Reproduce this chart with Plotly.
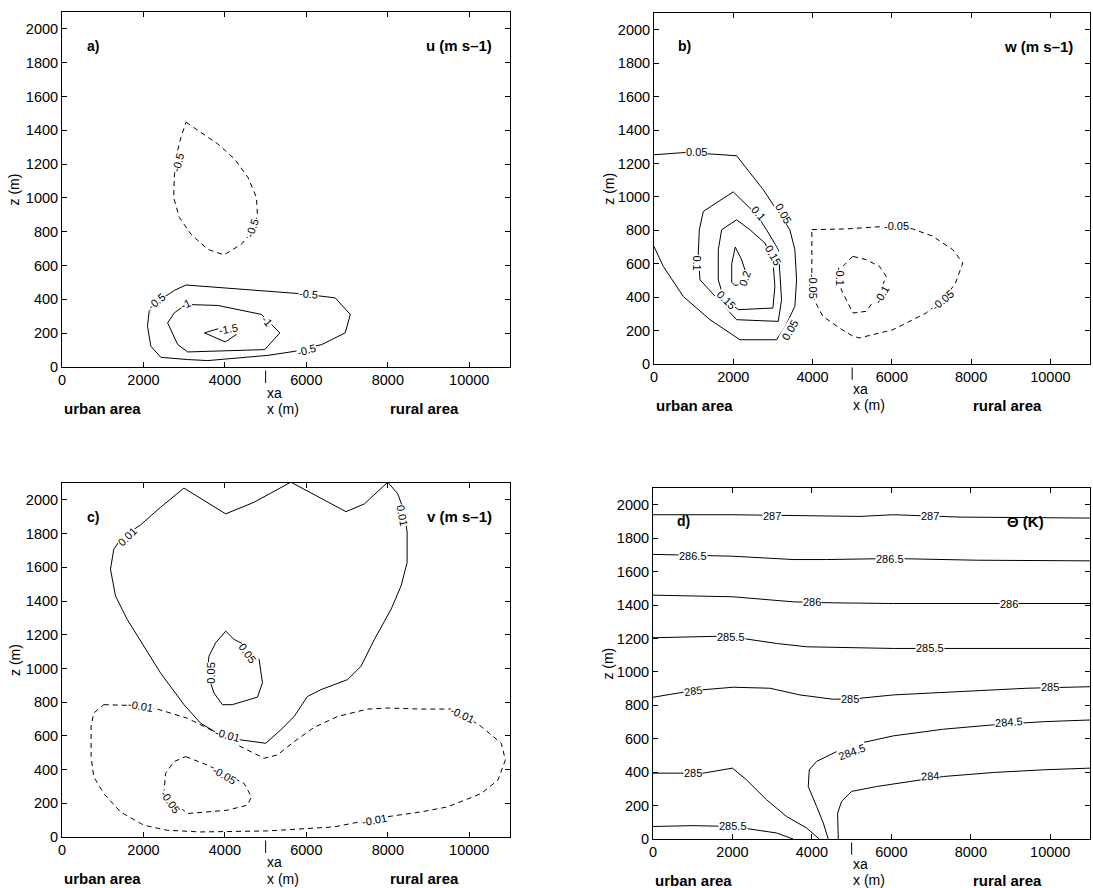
import plotly.graph_objects as go

# ---------------- data ----------------
X_TICKS = [0, 2000, 4000, 6000, 8000, 10000]
X_TICK_LABELS = ["0", "2000", "4000", "6000", "8000", "10000"]
Z_TICKS = [0, 200, 400, 600, 800, 1000, 1200, 1400, 1600, 1800, 2000]
X_RANGE = [0, 11000]
Z_RANGE = [0, 2100]
XA = 5000

# panel a) u (m s-1)
a_m05_up_x = [3045, 3416, 3827, 4239, 4568, 4774, 4798, 4691, 4403, 3975, 3580, 3169, 2881, 2741, 2757, 2798, 2922, 3045]
a_m05_up_z = [1448, 1388, 1319, 1230, 1121, 1003, 904, 805, 726, 663, 696, 785, 884, 1003, 1121, 1240, 1359, 1448]
a_m05_lo_x = [3045, 4239, 5885, 6708, 7078, 6955, 6379, 5720, 5062, 3580, 3086, 2428, 2181, 2099, 2140, 2428, 2757, 3045]
a_m05_lo_z = [485, 465, 433, 409, 311, 202, 133, 93, 69, 38, 44, 57, 123, 241, 330, 400, 453, 485]
a_m1_x = [3045, 3827, 4897, 5350, 4980, 4074, 3086, 2840, 2593, 2757, 3045]
a_m1_z = [370, 364, 311, 202, 103, 97, 89, 133, 261, 320, 370]
a_m15_x = [3498, 3951, 4280, 4008, 3498]
a_m15_z = [202, 235, 192, 148, 202]
a_lab_text = ["-0.5", "-0.5", "-0.5", "-0.5", "-1", "-1", "-1.5", "-0.5"]
a_lab_x = [2862, 4660, 6050, 2330, 3050, 5030, 4080, 6010]
a_lab_z = [1210, 825, 429, 390, 370, 271, 222, 103]
a_lab_ang = [-75, -70, 5, -40, -25, 50, -10, -15]

# panel b) w (m s-1)
b_p005_x = [0, 824, 2085, 2420, 2756, 3100, 3428, 3554, 3597, 3554, 3300, 3092, 2168, 1412, 739, 235, 0]
b_p005_z = [1252, 1266, 1246, 1142, 1043, 920, 803, 684, 504, 345, 220, 145, 145, 265, 404, 584, 703]
b_p01_x = [2000, 1244, 1143, 1118, 1160, 1538, 2085, 3134, 3218, 3176, 3134, 2840, 2588, 2000]
b_p01_z = [1030, 913, 803, 664, 504, 404, 265, 255, 385, 544, 684, 803, 893, 1030]
b_p015_x = [2085, 1706, 1622, 1622, 1750, 2126, 3000, 3050, 3000, 2798, 2420, 2085]
b_p015_z = [863, 803, 684, 504, 400, 325, 335, 464, 620, 724, 803, 863]
b_p02_x = [2050, 1960, 1960, 2040, 2250, 2300, 2200, 2050]
b_p02_z = [700, 600, 490, 470, 480, 560, 630, 700]
b_m005_x = [3983, 4849, 6109, 6529, 7034, 7538, 7790, 7600, 7286, 6866, 6025, 5185, 5017, 4681, 4260, 4050, 3983, 3983]
b_m005_z = [804, 808, 828, 808, 764, 684, 604, 480, 385, 305, 205, 156, 166, 215, 285, 380, 524, 804]
b_m01_x = [5017, 4765, 4723, 5017, 5353, 5689, 5857, 5689, 5353, 5017]
b_m01_z = [644, 584, 445, 305, 315, 425, 524, 584, 624, 644]
b_lab_text = ["0.05", "0.05", "0.1", "0.1", "0.15", "0.15", "0.2", "0.05", "-0.05", "-0.05", "-0.1", "-0.1", "-0.05"]
b_lab_x = [1076, 3260, 2630, 1076, 3008, 1832, 2294, 3428, 6109, 4000, 4681, 5731, 7286]
b_lab_z = [1266, 903, 903, 604, 654, 385, 514, 205, 828, 465, 524, 415, 385]
b_lab_ang = [0, 60, 50, 90, 60, 45, -70, -60, 0, 90, 90, -60, -40]

# panel c) v (m s-1)
c_p001_x = [1190, 1272, 1477, 1928, 2420, 2994, 4020, 4717, 5619, 6973, 7424, 7998, 8244, 8408, 8474, 8474, 8326, 8080, 7670, 7342, 7014, 6358, 6029, 5701, 5373, 5004, 4389, 3815, 3404, 2994, 2420, 2010, 1600, 1313, 1190]
c_p001_z = [1589, 1708, 1778, 1851, 1956, 2070, 1917, 1986, 2105, 1930, 1976, 2105, 2036, 1927, 1807, 1629, 1490, 1351, 1172, 1013, 934, 874, 834, 715, 636, 556, 576, 616, 675, 785, 973, 1132, 1291, 1430, 1589]
c_p005_x = [4020, 4225, 4553, 4840, 4922, 4800, 4184, 3938, 3733, 3568, 3609, 3773, 4020]
c_p005_z = [1221, 1172, 1132, 1053, 914, 830, 785, 785, 854, 973, 1073, 1152, 1221]
c_m001_x = [1025, 1600, 2338, 3076, 3733, 4389, 4963, 5291, 5701, 6194, 6768, 7506, 7998, 8818, 9639, 10295, 10787, 10886, 10705, 10295, 9475, 8818, 7834, 6686, 5045, 3404, 2584, 2010, 1436, 1025, 779, 714, 714, 779, 1025]
c_m001_z = [785, 781, 759, 705, 626, 536, 467, 487, 566, 651, 715, 759, 765, 759, 759, 655, 556, 457, 338, 258, 179, 149, 115, 60, 36, 30, 40, 70, 149, 258, 357, 477, 655, 735, 785]
c_m005_x = [3035, 3568, 4471, 4651, 4553, 4061, 3076, 2502, 2543, 2748, 3035]
c_m005_z = [477, 427, 318, 238, 189, 159, 139, 258, 377, 447, 477]
c_lab_text = ["0.01", "0.01", "-0.01", "0.05", "0.05", "-0.01", "-0.05", "-0.05", "-0.01", "-0.01"]
c_lab_x = [1600, 8367, 4061, 4553, 3650, 1928, 3979, 2666, 7670, 9844]
c_lab_z = [1778, 1907, 606, 1092, 973, 775, 367, 209, 99, 725]
c_lab_ang = [-45, 80, 15, 55, -90, 10, 30, 55, -10, 25]

# panel d) potential temperature (K)
d_287_x = [0, 2000, 5210, 6050, 7731, 11000]
d_287_z = [1940, 1940, 1930, 1940, 1926, 1920]
d_2865_x = [0, 2000, 3529, 4370, 6050, 8151, 11000]
d_2865_z = [1703, 1692, 1672, 1672, 1678, 1668, 1664]
d_286_x = [0, 2017, 3529, 4538, 6050, 11000]
d_286_z = [1459, 1449, 1419, 1413, 1409, 1409]
d_2855_x = [0, 1849, 3109, 3866, 6050, 8571, 11000]
d_2855_z = [1204, 1214, 1170, 1150, 1140, 1140, 1140]
d_285_x = [0, 1008, 2017, 2941, 3697, 4538, 5210, 6050, 7731, 9412, 11000]
d_285_z = [848, 888, 908, 902, 862, 836, 842, 862, 882, 902, 911]
d_285lo_x = [0, 1261, 2000, 2353, 2857, 3361, 3866, 4185]
d_285lo_z = [394, 394, 424, 354, 235, 135, 66, 0]
d_2845_x = [4412, 4286, 4118, 3908, 3933, 4118, 4622, 5210, 6050, 7311, 8571, 9832, 11000]
d_2845_z = [0, 96, 195, 314, 414, 464, 523, 573, 617, 657, 683, 702, 712]
d_284_x = [4664, 4647, 4748, 5000, 5630, 6471, 7311, 8571, 9832, 11000]
d_284_z = [0, 155, 225, 285, 314, 344, 374, 398, 414, 424]
d_2855lo_x = [0, 1008, 2000, 3109, 3529]
d_2855lo_z = [75, 80, 75, 36, 0]
d_lab_text = ["287", "287", "286.5", "286.5", "286", "286", "285.5", "285.5", "285", "285", "285",
              "284.5", "284.5", "284", "285", "285.5"]
d_lab_x = [2983, 6975, 1008, 5966, 3992, 8950, 1975, 6975, 1008, 4958, 10000, 5000, 8950, 6975, 1008, 2017]
d_lab_z = [1932, 1932, 1692, 1678, 1415, 1409, 1210, 1140, 888, 836, 907, 523, 702, 378, 394, 75]
d_lab_ang = [0, 0, 0, 0, 0, 0, 0, 0, -8, 0, 0, -20, -4, -4, 0, 0]

PANEL_LETTERS = ["a)", "b)", "c)", "d)"]
PANEL_VARS = ["u (m s–1)", "w (m s–1)", "v (m s–1)", "Θ (K)"]

# ---------------- figure ----------------
fig = go.Figure()
DASH = "5px,4px"
FONT = "Liberation Sans, Arial, sans-serif"

panels = [
    ("x", "y", [(a_m05_up_x, a_m05_up_z, True), (a_m05_lo_x, a_m05_lo_z, False),
                (a_m1_x, a_m1_z, False), (a_m15_x, a_m15_z, False)],
     (a_lab_text, a_lab_x, a_lab_z, a_lab_ang)),
    ("x2", "y2", [(b_p005_x, b_p005_z, False), (b_p01_x, b_p01_z, False),
                  (b_p015_x, b_p015_z, False), (b_p02_x, b_p02_z, False),
                  (b_m005_x, b_m005_z, True), (b_m01_x, b_m01_z, True)],
     (b_lab_text, b_lab_x, b_lab_z, b_lab_ang)),
    ("x3", "y3", [(c_p001_x, c_p001_z, False), (c_p005_x, c_p005_z, False),
                  (c_m001_x, c_m001_z, True), (c_m005_x, c_m005_z, True)],
     (c_lab_text, c_lab_x, c_lab_z, c_lab_ang)),
    ("x4", "y4", [(d_287_x, d_287_z, False), (d_2865_x, d_2865_z, False),
                  (d_286_x, d_286_z, False), (d_2855_x, d_2855_z, False),
                  (d_285_x, d_285_z, False), (d_285lo_x, d_285lo_z, False),
                  (d_2845_x, d_2845_z, False), (d_284_x, d_284_z, False),
                  (d_2855lo_x, d_2855lo_z, False)],
     (d_lab_text, d_lab_x, d_lab_z, d_lab_ang)),
]

annotations = []
shapes = []
for i, (xa, ya, lines, labs) in enumerate(panels):
    for xs, zs, dashed in lines:
        fig.add_trace(go.Scatter(
            x=xs, y=zs, xaxis=xa, yaxis=ya, mode="lines",
            line=dict(color="black", width=1, dash=DASH if dashed else "solid"),
            hoverinfo="skip", showlegend=False))
    texts, lx, lz, ang = labs
    for t, x, z, a in zip(texts, lx, lz, ang):
        annotations.append(dict(
            x=x, y=z, xref=xa, yref=ya, text=t, textangle=a, showarrow=False,
            font=dict(family=FONT, size=11, color="black"),
            bgcolor="white", borderpad=0))
    xd = xa + " domain"
    yd = ya + " domain"
    bot = [-0.072, -0.118]
    annotations += [
        dict(x=0.07, y=0.905, xref=xd, yref=yd, text="<b>%s</b>" % PANEL_LETTERS[i],
             showarrow=False, xanchor="center", yanchor="middle",
             font=dict(family=FONT, size=14, color="black")),
        dict(x=0.965 if i < 3 else 0.90, y=0.905, xref=xd, yref=yd,
             text="<b>%s</b>" % PANEL_VARS[i], showarrow=False,
             xanchor="right", yanchor="middle",
             font=dict(family=FONT, size=15, color="black")),
        dict(x=-0.105, y=0.5, xref=xd, yref=yd, text="z (m)", textangle=-90,
             showarrow=False, xanchor="center", yanchor="middle",
             font=dict(family=FONT, size=14, color="black")),
        dict(x=XA, y=bot[0], xref=xa, yref=yd, text="xa", showarrow=False,
             xanchor="left", yanchor="middle", xshift=-1,
             font=dict(family=FONT, size=14, color="black")),
        dict(x=XA, y=bot[1], xref=xa, yref=yd, text="x (m)", showarrow=False,
             xanchor="left", yanchor="middle", xshift=-1,
             font=dict(family=FONT, size=14, color="black")),
        dict(x=0, y=bot[1], xref=xa, yref=yd, text="<b>urban area</b>", showarrow=False,
             xanchor="left", yanchor="middle",
             font=dict(family=FONT, size=15, color="black")),
        dict(x=8000, y=bot[1], xref=xa, yref=yd, text="<b>rural area</b>", showarrow=False,
             xanchor="left", yanchor="middle",
             font=dict(family=FONT, size=15, color="black")),
    ]
    shapes.append(dict(type="line", xref=xa, yref=yd, x0=XA, x1=XA, y0=-0.01, y1=-0.045,
                       line=dict(color="black", width=1)))

W, H = 1093, 888
doms = [
    ((62, 510), (12, 367)),
    ((654, 1090), (13, 364)),
    ((62, 510), (483, 837)),
    ((653, 1090), (488, 839)),
]
axis_common = dict(showline=True, linecolor="black", linewidth=1, mirror="ticks",
                   ticks="inside", ticklen=5, tickcolor="black", showgrid=False,
                   zeroline=False,
                   tickfont=dict(family=FONT, size=14.5, color="black"))
layout = dict(width=W, height=H, margin=dict(l=0, r=0, t=0, b=0),
              paper_bgcolor="white", plot_bgcolor="white",
              annotations=annotations, shapes=shapes, showlegend=False)
for i, ((x0, x1), (y0, y1)) in enumerate(doms):
    sfx = "" if i == 0 else str(i + 1)
    layout["xaxis" + sfx] = dict(axis_common, domain=[x0 / W, x1 / W], range=X_RANGE,
                                 tickvals=X_TICKS, ticktext=X_TICK_LABELS,
                                 anchor="y" + sfx, automargin=False)
    layout["yaxis" + sfx] = dict(axis_common, domain=[1 - y1 / H, 1 - y0 / H], range=Z_RANGE,
                                 tickvals=Z_TICKS, anchor="x" + sfx, automargin=False)
fig.update_layout(**layout)
fig.write_html("out.html", config={"displayModeBar": False},
               post_script="document.body.style.margin='0';document.body.style.overflow='hidden';")
